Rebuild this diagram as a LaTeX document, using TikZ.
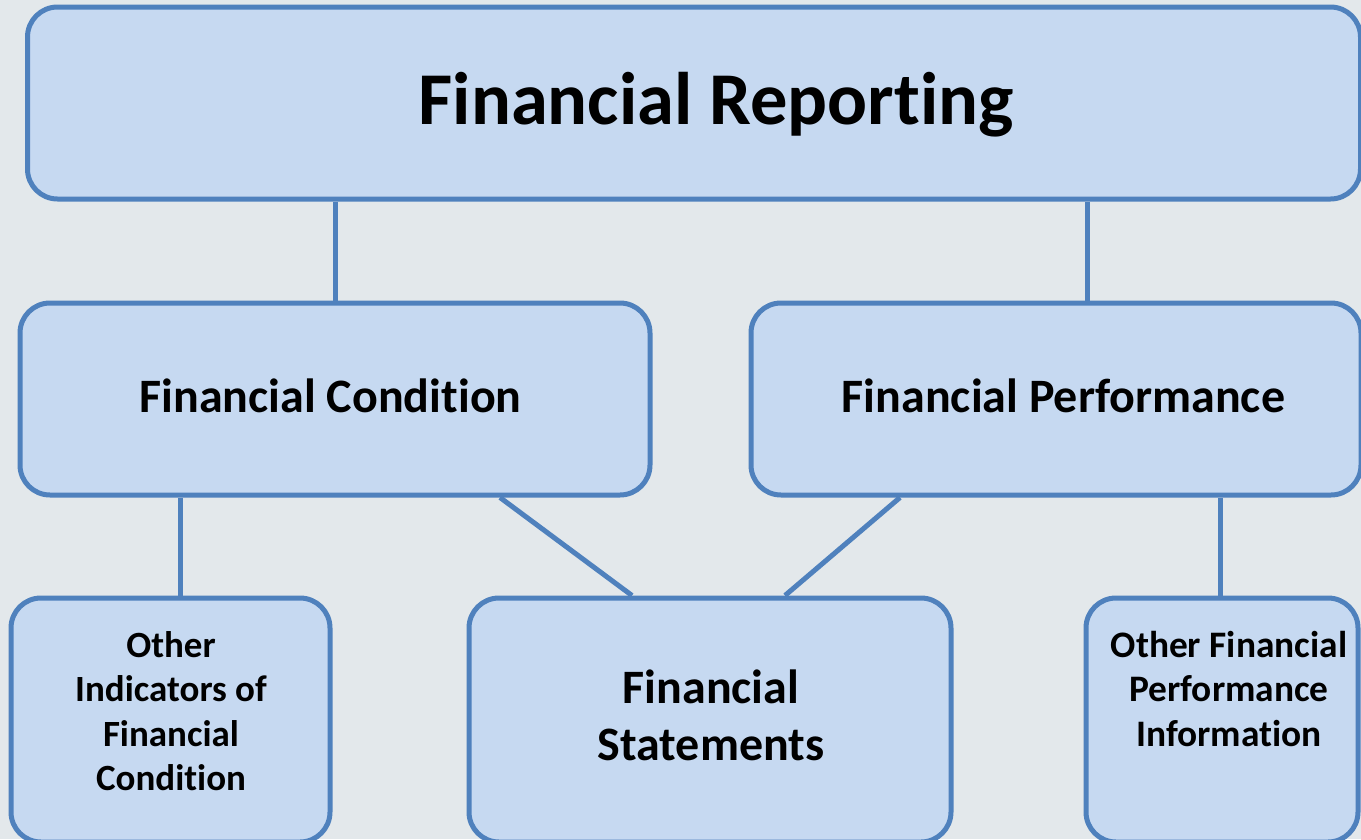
\documentclass[tikz,border=0pt]{standalone}
\usepackage{fontspec}
\setmainfont{Carlito}[Ligatures=NoCommon]
\usetikzlibrary{calc}
\definecolor{boxfill}{HTML}{C6D9F1}
\definecolor{boxline}{HTML}{4F81BD}
\definecolor{backdrop}{HTML}{E3E8EB}
\begin{document}
\begin{tikzpicture}[x=1pt,y=-1pt,
  box/.style={draw=boxline,fill=boxfill,line width=5pt,rounded corners=30pt,inner sep=0pt},
  link/.style={draw=boxline,line width=5pt},
  lbl/.style={font=\bfseries,align=center,inner sep=0pt,text=black}]
  \fill[backdrop] (0,0) rectangle (1361,839);
  \useasboundingbox (0,0) rectangle (1361,839);
  \begin{scope}
  \clip (0,0) rectangle (1361,839);
  % boxes
  \node[box,minimum width=1333pt,minimum height=192pt] (top) at (694,103) {};
  \node[box,minimum width=630pt,minimum height=192pt] (cond) at (335,399) {};
  \node[box,minimum width=610pt,minimum height=192pt] (perf) at (1056,399) {};
  \node[box,minimum width=319pt,minimum height=244pt] (oic) at (170.5,720) {};
  \node[box,minimum width=482pt,minimum height=244pt] (fs) at (710,720) {};
  \node[box,minimum width=272pt,minimum height=244pt] (ofp) at (1222,720) {};
  % connectors
  \draw[link] (top.south -| cond.north) -- (cond.north);
  \draw[link] ([xshift=31pt]perf.north) -- ([xshift=31pt]perf.north |- top.south);
  \draw[link] ([xshift=10pt]oic.north) -- ([xshift=10pt]oic.north |- cond.south);
  \draw[link] ([xshift=165pt]cond.south) -- ([xshift=-78pt]fs.north);
  \draw[link] ([xshift=-156pt]perf.south) -- ([xshift=75pt]fs.north);
  \draw[link] ([xshift=-2pt]ofp.north) -- ([xshift=-2pt]ofp.north |- perf.south);
  % labels
  \node[lbl,font=\bfseries\fontsize{74.5}{89}\selectfont] (ttop) at (716,105) {Financial Reporting};
  \node[lbl,font=\bfseries\fontsize{48}{58}\selectfont] (tcond) at (330.5,396) {Financial Condition};
  \node[lbl,font=\bfseries\fontsize{48}{58}\selectfont] (tperf) at (1063.5,396) {Financial Performance};
  \node[lbl,font=\bfseries\fontsize{37}{44.5}\selectfont] (toic) at (171,711) {Other\\Indicators of\\Financial\\Condition};
  \node[lbl,font=\bfseries\fontsize{48}{57}\selectfont] (tfs) at (711,715) {Financial\\Statements};
  \node[lbl,font=\bfseries\fontsize{37.4}{44.5}\selectfont] (tofp) at (1229,689) {Other Financial\\Performance\\Information};
  \end{scope}
\end{tikzpicture}
\end{document}
